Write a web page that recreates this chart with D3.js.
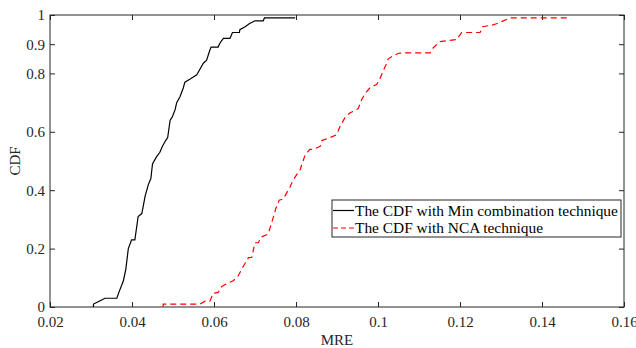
<!DOCTYPE html>
<html>
<head>
<meta charset="utf-8">
<script src="https://cdn.jsdelivr.net/npm/d3@7"></script>
<style>
  body { margin: 0; background: #fff; }
  svg { display: block; font-family: "Liberation Serif", "Times New Roman", serif; }
</style>
</head>
<body>
<svg id="chart" width="636" height="348"></svg>
<script>
// x ticks / y ticks as MATLAB drew them
const X_TICKS = [0.02, 0.04, 0.06, 0.08, 0.10, 0.12, 0.14, 0.16];
const X_TICK_LABELS = ["0.02", "0.04", "0.06", "0.08", "0.1", "0.12", "0.14", "0.16"];
const Y_TICKS = [0, 0.2, 0.4, 0.6, 0.8, 0.9, 1];
const Y_TICK_LABELS = ["0", "0.2", "0.4", "0.6", "0.8", "0.9", "1"];

const SERIES_NAMES = ["The CDF with Min combination technique", "The CDF with NCA technique"];

// CDF of the Min combination technique (MRE, CDF)
const MIN_MRE = [0.0306, 0.0306, 0.0320, 0.0334, 0.0363, 0.0368, 0.0379, 0.0385, 0.0391, 0.0399,
  0.0407, 0.0415, 0.0424, 0.0432, 0.0440, 0.0446, 0.0450, 0.0460, 0.0468, 0.0474,
  0.0482, 0.0487, 0.0493, 0.0498, 0.0505, 0.0509, 0.0517, 0.0525, 0.0529, 0.0541,
  0.0558, 0.0566, 0.0574, 0.0582, 0.0590, 0.0593, 0.0610, 0.0615, 0.0623, 0.0639,
  0.0645, 0.0662, 0.0663, 0.0676, 0.0686, 0.0700, 0.0720, 0.0723, 0.0798];
const MIN_CDF = [0, 0.01, 0.02, 0.03, 0.03, 0.05, 0.09, 0.13, 0.20, 0.23,
  0.23, 0.31, 0.32, 0.38, 0.42, 0.44, 0.49, 0.515, 0.53, 0.55,
  0.57, 0.58, 0.64, 0.65, 0.675, 0.70, 0.72, 0.75, 0.77, 0.78,
  0.795, 0.815, 0.835, 0.845, 0.88, 0.89, 0.89, 0.905, 0.92, 0.92,
  0.94, 0.94, 0.95, 0.96, 0.97, 0.98, 0.98, 0.99, 0.99];

// CDF of the NCA technique (MRE, CDF)
const NCA_MRE = [0.0476, 0.0476, 0.0566, 0.0578, 0.0590, 0.0598, 0.0610, 0.0619, 0.0631, 0.0647,
  0.0658, 0.0671, 0.0684, 0.0692, 0.0700, 0.0708, 0.0716, 0.0732, 0.0741, 0.0751,
  0.0759, 0.0769, 0.0777, 0.0785, 0.0793, 0.0810, 0.0822, 0.0834, 0.0842, 0.0859,
  0.0863, 0.0883, 0.0899, 0.0907, 0.0920, 0.0932, 0.0940, 0.0952, 0.0960, 0.0968,
  0.0980, 0.0997, 0.1005, 0.1013, 0.1021, 0.1025, 0.1037, 0.1050, 0.1062, 0.1127,
  0.1135, 0.1151, 0.1192, 0.1204, 0.1249, 0.1255, 0.1277, 0.1289, 0.1306, 0.1322,
  0.1468];
const NCA_CDF = [0, 0.01, 0.01, 0.02, 0.02, 0.047, 0.05, 0.07, 0.08, 0.09,
  0.104, 0.138, 0.169, 0.17, 0.22, 0.22, 0.24, 0.25, 0.29, 0.338,
  0.366, 0.37, 0.39, 0.41, 0.435, 0.47, 0.52, 0.54, 0.54, 0.55,
  0.57, 0.58, 0.59, 0.617, 0.65, 0.665, 0.67, 0.68, 0.71, 0.73,
  0.75, 0.763, 0.783, 0.81, 0.834, 0.85, 0.86, 0.869, 0.87, 0.87,
  0.888, 0.909, 0.916, 0.94, 0.94, 0.96, 0.965, 0.97, 0.98, 0.99,
  0.99];

function zip(xs, ys) {
  return xs.map((x, i) => ({x: x, y: ys[i]}));
}

const svg = d3.select("#chart");
const plotLeft = 50, plotRight = 624, plotTop = 15, plotBottom = 307;
const axisColor = "#262626";
const fontSize = "15px";

const xScale = d3.scaleLinear().domain([0.02, 0.16]).range([plotLeft, plotRight]);
const yScale = d3.scaleLinear().domain([0, 1]).range([plotBottom, plotTop]);

function styleAxis(g) {
  g.select(".domain").remove();
  g.selectAll("line").attr("stroke", axisColor);
  g.selectAll("text").attr("fill", axisColor).style("font-size", fontSize)
    .style("font-family", "Liberation Serif, serif");
}

svg.append("g")
  .attr("transform", `translate(0,${plotBottom})`)
  .call(d3.axisBottom(xScale).tickValues(X_TICKS)
    .tickFormat((d, i) => X_TICK_LABELS[i]).tickSizeInner(-5).tickSizeOuter(0).tickPadding(9))
  .call(styleAxis);

svg.append("g")
  .attr("transform", `translate(0,${plotTop})`)
  .call(d3.axisTop(xScale).tickValues(X_TICKS).tickFormat("").tickSizeInner(-5).tickSizeOuter(0))
  .call(styleAxis);

svg.append("g")
  .attr("transform", `translate(${plotLeft},0)`)
  .call(d3.axisLeft(yScale).tickValues(Y_TICKS)
    .tickFormat((d, i) => Y_TICK_LABELS[i]).tickSizeInner(-5).tickSizeOuter(0).tickPadding(5))
  .call(styleAxis);

svg.append("g")
  .attr("transform", `translate(${plotRight},0)`)
  .call(d3.axisRight(yScale).tickValues(Y_TICKS).tickFormat("").tickSizeInner(-5).tickSizeOuter(0))
  .call(styleAxis);

// box
svg.append("rect")
  .attr("x", plotLeft).attr("y", plotTop)
  .attr("width", plotRight - plotLeft).attr("height", plotBottom - plotTop)
  .attr("fill", "none").attr("stroke", axisColor).attr("stroke-width", 1);

const line = d3.line()
  .x(d => xScale(d.x))
  .y(d => yScale(d.y));

svg.append("path")
  .datum(zip(MIN_MRE, MIN_CDF))
  .attr("d", line)
  .attr("fill", "none")
  .attr("stroke", "#000")
  .attr("stroke-width", 1.2);

svg.append("path")
  .datum(zip(NCA_MRE, NCA_CDF))
  .attr("d", line)
  .attr("fill", "none")
  .attr("stroke", "#ff0000")
  .attr("stroke-width", 1.2)
  .attr("stroke-dasharray", "6,4");

// axis labels
svg.append("text")
  .attr("x", (plotLeft + plotRight) / 2).attr("y", 345)
  .attr("text-anchor", "middle")
  .attr("fill", axisColor)
  .style("font-size", fontSize)
  .text("MRE");

svg.append("text")
  .attr("transform", `translate(20,${(plotTop + plotBottom) / 2}) rotate(-90)`)
  .attr("text-anchor", "middle")
  .attr("fill", axisColor)
  .style("font-size", fontSize)
  .text("CDF");

// legend
const legend = svg.append("g");
legend.append("rect")
  .attr("x", 332).attr("y", 200)
  .attr("width", 289).attr("height", 37)
  .attr("fill", "#fff").attr("stroke", axisColor).attr("stroke-width", 1);

const legendStyles = [
  {color: "#000", dash: null},
  {color: "#ff0000", dash: "5,3"}
];
SERIES_NAMES.forEach((name, i) => {
  const y = 210.5 + i * 17.5;
  legend.append("line")
    .attr("x1", 333).attr("x2", 354)
    .attr("y1", y).attr("y2", y)
    .attr("stroke", legendStyles[i].color)
    .attr("stroke-width", 1.2)
    .attr("stroke-dasharray", legendStyles[i].dash);
  legend.append("text")
    .attr("x", 355).attr("y", y)
    .attr("dy", "0.35em")
    .attr("fill", "#000")
    .style("font-size", "15.4px")
    .text(name);
});
</script>
</body>
</html>
